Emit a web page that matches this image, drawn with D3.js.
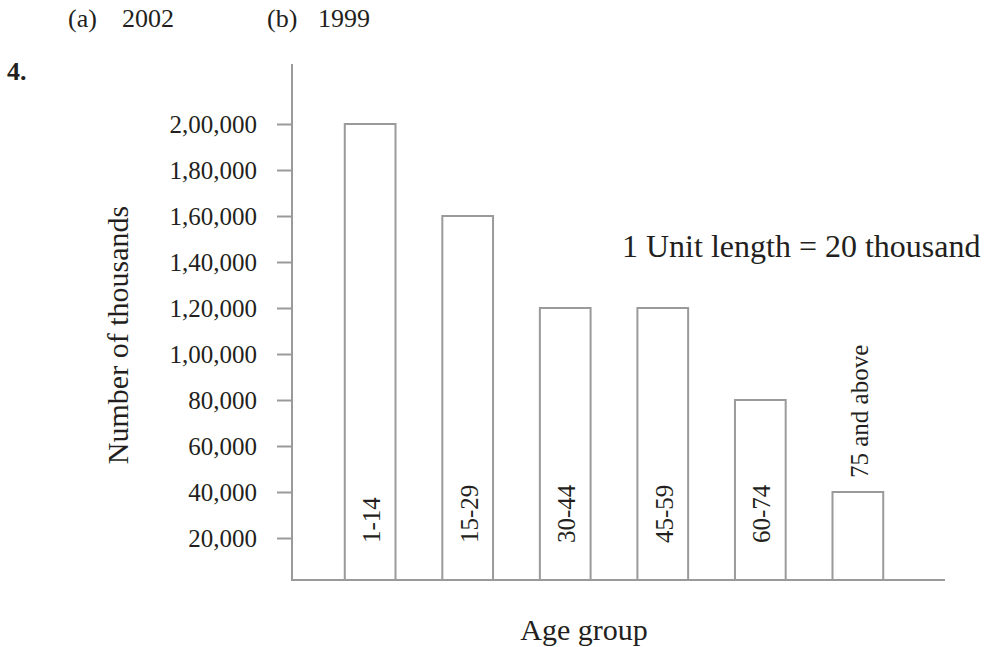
<!DOCTYPE html>
<html>
<head>
<meta charset="utf-8">
<script src="https://cdn.jsdelivr.net/npm/d3@7"></script>
<style>
  html, body { margin: 0; padding: 0; background: #fff; }
  svg { display: block; }
  text { font-family: "Liberation Serif", "Times New Roman", serif; fill: #231f20; }
</style>
</head>
<body>
<svg id="chart" width="994" height="647"></svg>
<script>
// Population by age group (number of persons)
const ageGroups = ["1-14", "15-29", "30-44", "45-59", "60-74", "75 and above"];
const population = [200000, 160000, 120000, 120000, 80000, 40000];
const yTicks = [20000, 40000, 60000, 80000, 100000, 120000, 140000, 160000, 180000, 200000];

const svg = d3.select("#chart");
const axisColor = "#9a9a9a";

// Indian digit grouping: 2,00,000
const inLocale = d3.formatLocale({ decimal: ".", thousands: ",", grouping: [3, 2], currency: ["", ""] });
const fmt = inLocale.format(",");

const xAxisY = 580, axisX = 292, axisTop = 64, axisRight = 945;

const x = d3.scaleBand()
  .domain(ageGroups)
  .range([296, 932])
  .paddingInner(0.48)
  .paddingOuter(0.5);

const y = d3.scaleLinear()
  .domain([0, 200000])
  .range([584, 124]);

// Header lines
svg.append("text").attr("x", 68).attr("y", 27).attr("font-size", 26).text("(a)");
svg.append("text").attr("x", 122).attr("y", 27).attr("font-size", 26).text("2002");
svg.append("text").attr("x", 267).attr("y", 27).attr("font-size", 26).text("(b)");
svg.append("text").attr("x", 318).attr("y", 27).attr("font-size", 26).text("1999");
svg.append("text").attr("x", 7).attr("y", 80).attr("font-size", 26).attr("font-weight", "bold").text("4.");

// Y axis ticks and labels
const yAxis = d3.axisLeft(y)
  .tickValues(yTicks)
  .tickFormat(fmt)
  .tickSize(15)
  .tickPadding(20);

const gy = svg.append("g").attr("transform", `translate(${axisX},0)`).call(yAxis);
gy.select(".domain").remove();
gy.selectAll(".tick line").attr("stroke", axisColor).attr("stroke-width", 2);
gy.selectAll(".tick text")
  .attr("font-family", "Liberation Serif, Times New Roman, serif")
  .attr("font-size", 25)
  .attr("fill", "#231f20");

// Bars
svg.append("g").selectAll("rect")
  .data(ageGroups)
  .join("rect")
  .attr("x", d => x(d))
  .attr("y", (d, i) => y(population[i]))
  .attr("width", x.bandwidth())
  .attr("height", (d, i) => xAxisY - y(population[i]))
  .attr("fill", "#fff")
  .attr("stroke", axisColor)
  .attr("stroke-width", 2);

// Category labels, vertical: inside tall bars, above short ones
svg.append("g").selectAll("text")
  .data(ageGroups)
  .join("text")
  .attr("font-size", 25)
  .attr("text-anchor", "start")
  .attr("transform", (d, i) => {
    const cx = x(d) + x.bandwidth() / 2 + 10;
    const yTop = y(population[i]);
    const start = (xAxisY - yTop) > 120 ? 543 : yTop - 14;
    return `translate(${cx},${start}) rotate(-90)`;
  })
  .text(d => d);

// Axis lines
svg.append("line")
  .attr("x1", axisX).attr("x2", axisX)
  .attr("y1", axisTop).attr("y2", xAxisY + 1)
  .attr("stroke", axisColor).attr("stroke-width", 2);
svg.append("line")
  .attr("x1", axisX - 1).attr("x2", axisRight)
  .attr("y1", xAxisY).attr("y2", xAxisY)
  .attr("stroke", axisColor).attr("stroke-width", 2);

// Axis titles
svg.append("text")
  .attr("font-size", 30)
  .attr("text-anchor", "middle")
  .attr("transform", "translate(128,335) rotate(-90)")
  .text("Number of thousands");

svg.append("text")
  .attr("x", 584).attr("y", 640)
  .attr("font-size", 30)
  .attr("text-anchor", "middle")
  .text("Age group");

// Scale note
svg.append("text")
  .attr("x", 622).attr("y", 257)
  .attr("font-size", 32)
  .text("1 Unit length = 20 thousand");
</script>
</body>
</html>
